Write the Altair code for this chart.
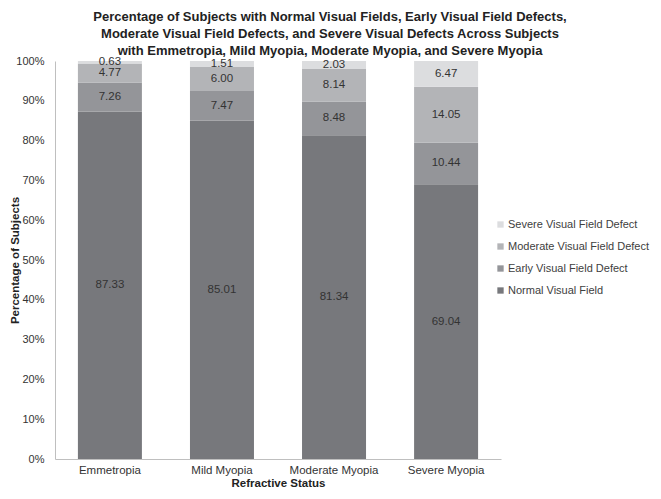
import altair as alt
import pandas as pd

categories = ["Emmetropia", "Mild Myopia", "Moderate Myopia", "Severe Myopia"]
series = ["Normal Visual Field", "Early Visual Field Defect", "Moderate Visual Field Defect", "Severe Visual Field Defect"]
normal = [87.33, 85.01, 81.34, 69.04]
early = [7.26, 7.47, 8.48, 10.44]
moderate = [4.77, 6.00, 8.14, 14.05]
severe = [0.63, 1.51, 2.03, 6.47]
colors = ["#77787c", "#949599", "#b3b4b7", "#dcdddf"]
y_ticks = [0, 10, 20, 30, 40, 50, 60, 70, 80, 90, 100]

rows = []
for i, c in enumerate(categories):
    for k, (s, vals) in enumerate(zip(series, [normal, early, moderate, severe])):
        rows.append({"status": c, "series": s, "value": vals[i], "order": k, "label": f"{vals[i]:.2f}"})
df = pd.DataFrame(rows)

font = "Liberation Sans"

x_axis = alt.Axis(title="Refractive Status", labelAngle=0, ticks=False, labelPadding=5,
                  titlePadding=2, labelFont=font, labelFontSize=11.5, labelColor="#333333",
                  titleFont=font, titleFontSize=11.5, titleFontWeight="bold", titleColor="#222222",
                  domainColor="#bfbfbf", grid=False)
y_axis = alt.Axis(title="Percentage of Subjects", values=y_ticks, labelExpr="datum.value + '%'",
                  ticks=False, labelPadding=11, titleX=-35, grid=False, labelOverlap=False,
                  labelFont=font, labelFontSize=11, labelColor="#333333",
                  titleFont=font, titleFontSize=11.5, titleFontWeight="bold", titleColor="#222222",
                  domainColor="#bfbfbf")
x_scale = alt.Scale(paddingInner=0.43, paddingOuter=0.205)
y_scale = alt.Scale(domain=[0, 100], nice=False)

base = alt.Chart(df).transform_stack(
    stack="value", groupby=["status"], as_=["v0", "v1"], sort=[alt.SortField("order")]
).transform_calculate(mid="(datum.v0 + datum.v1) / 2")

bars = base.mark_bar(size=64).encode(
    x=alt.X("status:N", sort=categories, scale=x_scale, axis=x_axis),
    y=alt.Y("v0:Q", scale=y_scale, axis=y_axis),
    y2="v1:Q",
    color=alt.Color("series:N", scale=alt.Scale(domain=series[::-1], range=colors[::-1]),
                    legend=alt.Legend(title=None, orient="none", legendX=440, legendY=158,
                                      symbolType="square", symbolSize=40, symbolStrokeWidth=0,
                                      labelFont=font, labelFontSize=11, labelColor="#404040",
                                      labelOffset=2, rowPadding=10, symbolOffset=0)),
)

texts = base.mark_text(font=font, fontSize=11.5, color="#333333").encode(
    x=alt.X("status:N", sort=categories, scale=x_scale, axis=x_axis),
    y=alt.Y("mid:Q", scale=y_scale, axis=y_axis),
    text="label:N",
)

chart = alt.layer(bars, texts).properties(
    width=446, height=398,
    autosize=alt.AutoSizeParams(type="none"),
    padding={"left": 47, "top": 53, "right": 152, "bottom": 32},
    title=alt.TitleParams(
        text=["Percentage of Subjects with Normal Visual Fields, Early Visual Field Defects,",
              "Moderate Visual Field Defects, and Severe Visual Defects  Across Subjects",
              "with Emmetropia, Mild Myopia, Moderate Myopia, and Severe Myopia"],
        font=font, fontSize=13, fontWeight="bold", color="#222222", anchor="middle",
        dx=52, offset=-3, lineHeight=17,
    ),
).configure_view(stroke=None)

chart.save("out.html", embed_options={"renderer": "svg", "actions": False})
